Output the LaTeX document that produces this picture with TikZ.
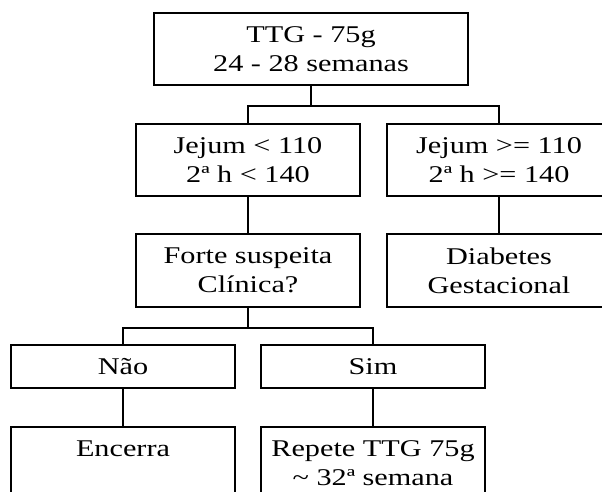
\documentclass[tikz,border=0pt]{standalone}
\usepackage{fontspec}
\setmainfont{Liberation Serif}[FakeStretch=1.26]
\usetikzlibrary{positioning,calc}
\definecolor{ink}{HTML}{000000}
\tikzset{
  box/.style={draw=ink,line width=1.9pt,fill=white,inner sep=0pt,align=center,minimum width=224pt,minimum height=72pt,anchor=north,font=\fontsize{24}{29}\selectfont,text=ink},
  boxw/.style={box,minimum width=314pt},
  boxs/.style={box,minimum height=43pt},
  ln/.style={draw=ink,line width=1.9pt},
}
\begin{document}
\begin{tikzpicture}[x=1pt,y=-1pt]
  \useasboundingbox (0,0) rectangle (602,491);
  \node[boxw] (ttg) at (311,12) {TTG - 75g\\24 - 28 semanas};
  \node[box] (jlow) at (248,123) {Jejum < 110\\2ª h < 140};
  \node[box] (jhigh) at (499,123) {Jejum >= 110\\2ª h >= 140};
  \node[box,minimum height=73pt] (forte) at (248,233) {Forte suspeita\\Clínica?};
  \node[box,minimum height=73pt] (dmg) at (499,233) {Diabetes\\Gestacional};
  \node[boxs] (nao) at (123,344) {Não};
  \node[boxs] (sim) at (373,344) {Sim};
  \node[box] (enc) at (123,426) {Encerra\\{}};
  \node[box] (rep) at (373,426) {Repete TTG 75g\\\textasciitilde\ 32ª semana};
  \draw[ln] (ttg.south) -- ++(0,20) coordinate (bar1);
  \draw[ln] (jlow.north) |- (bar1) -| (jhigh.north);
  \draw[ln] (jlow.south) -- (forte.north);
  \draw[ln] (jhigh.south) -- (dmg.north);
  \draw[ln] (forte.south) -- ++(0,20) coordinate (bar2);
  \draw[ln] (nao.north) |- (bar2) -| (sim.north);
  \draw[ln] (nao.south) -- (enc.north);
  \draw[ln] (sim.south) -- (rep.north);
\end{tikzpicture}
\end{document}
